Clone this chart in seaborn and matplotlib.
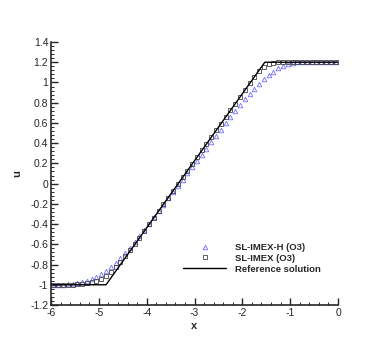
import numpy as np
import pandas as pd
import matplotlib
matplotlib.use("Agg")
import matplotlib.pyplot as plt
from matplotlib.ticker import MultipleLocator, FuncFormatter
import seaborn as sns

# ---- data ----
x_cells = [-5.95, -5.85, -5.75, -5.65, -5.55, -5.45, -5.35, -5.25, -5.15, -5.05,
           -4.95, -4.85, -4.75, -4.65, -4.55, -4.45, -4.35, -4.25, -4.15, -4.05,
           -3.95, -3.85, -3.75, -3.65, -3.55, -3.45, -3.35, -3.25, -3.15, -3.05,
           -2.95, -2.85, -2.75, -2.65, -2.55, -2.45, -2.35, -2.25, -2.15, -2.05,
           -1.95, -1.85, -1.75, -1.65, -1.55, -1.45, -1.35, -1.25, -1.15, -1.05,
           -0.95, -0.85, -0.75, -0.65, -0.55, -0.45, -0.35, -0.25, -0.15, -0.05]

u_imex_h = [-1.0, -1.0, -0.998, -0.995, -0.99, -0.98, -0.97, -0.958, -0.942, -0.92,
            -0.893, -0.862, -0.825, -0.783, -0.735, -0.685, -0.635, -0.58, -0.52, -0.458,
            -0.395, -0.332, -0.27, -0.208, -0.146, -0.084, -0.023, 0.039, 0.101, 0.162,
            0.225, 0.286, 0.347, 0.41, 0.471, 0.533, 0.595, 0.656, 0.718, 0.78,
            0.835, 0.887, 0.937, 0.983, 1.03, 1.07, 1.105, 1.14, 1.167, 1.187,
            1.197, 1.2, 1.2, 1.2, 1.2, 1.2, 1.2, 1.2, 1.2, 1.2]

u_imex = [-1.0, -1.0, -1.0, -1.0, -0.998, -0.995, -0.99, -0.985, -0.975, -0.96,
          -0.94, -0.91, -0.87, -0.825, -0.775, -0.72, -0.66, -0.60, -0.535, -0.47,
          -0.403, -0.337, -0.27, -0.204, -0.138, -0.071, -0.005, 0.062, 0.128, 0.195,
          0.261, 0.328, 0.394, 0.46, 0.527, 0.593, 0.66, 0.726, 0.792, 0.858,
          0.922, 0.99, 1.055, 1.11, 1.155, 1.183, 1.196, 1.2, 1.2, 1.2,
          1.2, 1.2, 1.2, 1.2, 1.2, 1.2, 1.2, 1.2, 1.2, 1.2]

x_ref = [-6.0, -4.85, -1.53, 0.0]
u_ref = [-1.0, -1.0, 1.2, 1.2]

labels = ["SL-IMEX-H (O3)", "SL-IMEX (O3)", "Reference solution"]

# ---- figure ----
sns.set_style("ticks")
plt.rcParams['font.family'] = ['Liberation Sans', 'DejaVu Sans']

fig = plt.figure(figsize=(3.84, 3.42), dpi=100)
ax = fig.add_axes([51/384, 1-305/342, (338-51)/384, (305-42)/342])

df_h = pd.DataFrame({"x": x_cells, "u": u_imex_h})
df_s = pd.DataFrame({"x": x_cells, "u": u_imex})
df_r = pd.DataFrame({"x": x_ref, "u": u_ref})

sns.lineplot(data=df_h, x="x", y="u", ax=ax, linestyle="none", marker="^",
             markersize=3.3, markerfacecolor="none", markeredgecolor="#6f6fff",
             markeredgewidth=0.6, label=labels[0], sort=False)
sns.lineplot(data=df_s, x="x", y="u", ax=ax, linestyle="none", marker="s",
             markersize=2.8, markerfacecolor="none", markeredgecolor="#444444",
             markeredgewidth=0.6, label=labels[1], sort=False)
sns.lineplot(data=df_r, x="x", y="u", ax=ax, color="black", linewidth=1.0,
             label=labels[2], sort=False)

ax.set_xlim(-6, 0)
ax.set_ylim(-1.2, 1.4)
ax.xaxis.set_major_locator(MultipleLocator(1))
ax.xaxis.set_minor_locator(MultipleLocator(0.2))
ax.yaxis.set_major_locator(MultipleLocator(0.2))
ax.yaxis.set_minor_locator(MultipleLocator(0.04))
fmt = FuncFormatter(lambda v, p: ("%g" % round(v, 6)) if abs(v) > 1e-9 else "0")
ax.xaxis.set_major_formatter(fmt)
ax.yaxis.set_major_formatter(fmt)

ax.tick_params(which="major", direction="in", length=5, width=1.0, labelsize=7.5, pad=2)
ax.tick_params(which="minor", direction="in", length=2.5, width=0.7)

for s in ["top", "right"]:
    ax.spines[s].set_visible(False)
for s in ["left", "bottom"]:
    ax.spines[s].set_linewidth(1.2)

ax.set_xlabel("x", fontsize=8, fontweight="bold", labelpad=2)
ax.set_ylabel("u", fontsize=8, fontweight="bold", labelpad=6)

leg = ax.legend(loc="lower right", bbox_to_anchor=(0.955, 0.105), frameon=False,
                prop={"size": 6.8, "weight": "bold"}, handlelength=4.5,
                handletextpad=1.0, labelspacing=0.2, borderaxespad=0)

fig.savefig("out.png", dpi=100)
